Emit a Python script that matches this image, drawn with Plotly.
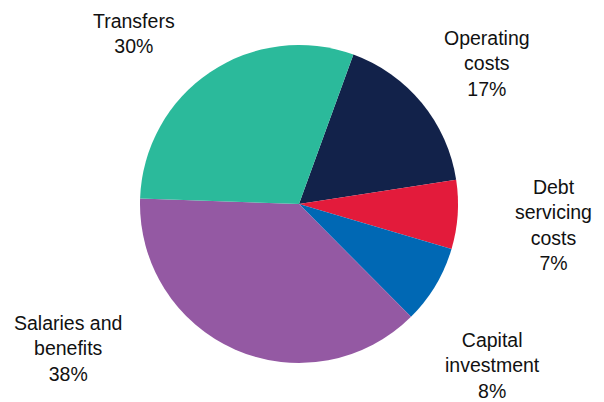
import plotly.graph_objects as go

categories = ["Operating<br>costs", "Debt<br>servicing<br>costs", "Capital<br>investment",
              "Salaries and<br>benefits", "Transfers"]
shares = [17, 7, 8, 38, 30]
colors = ["#12224A", "#E31B3B", "#0068B4", "#9459A3", "#2BBA9B"]

# label centres in page pixels (x, y)
label_pos = [(487, 63), (553, 225), (492, 365), (68, 348), (134, 34)]

# page body has an 8px default margin; build figure in page coordinates minus offset
OFF = 8
W, H = 604 - OFF, 402 - OFF
cx, cy, r = 299 - OFF, 204 - OFF, 159

fig = go.Figure(go.Pie(
    labels=categories,
    values=shares,
    sort=False,
    direction="clockwise",
    rotation=20,
    marker=dict(colors=colors, line=dict(width=0)),
    textinfo="none",
    hoverinfo="label+percent",
    domain=dict(x=[(cx - r) / W, (cx + r) / W], y=[1 - (cy + r) / H, 1 - (cy - r) / H]),
    showlegend=False,
))

for lab, val, (px, py) in zip(categories, shares, label_pos):
    fig.add_annotation(
        x=(px - OFF) / W, y=1 - (py - OFF) / H, xref="paper", yref="paper",
        text=f"{lab}<br>{val}%", showarrow=False,
        xanchor="center", yanchor="middle", align="center",
        font=dict(family="Liberation Sans, Arial, sans-serif", size=19.5, color="#111111"),
    )

fig.update_layout(
    width=W, height=H,
    margin=dict(l=0, r=0, t=0, b=0),
    paper_bgcolor="white", plot_bgcolor="white",
)

fig.write_html("out.html")
